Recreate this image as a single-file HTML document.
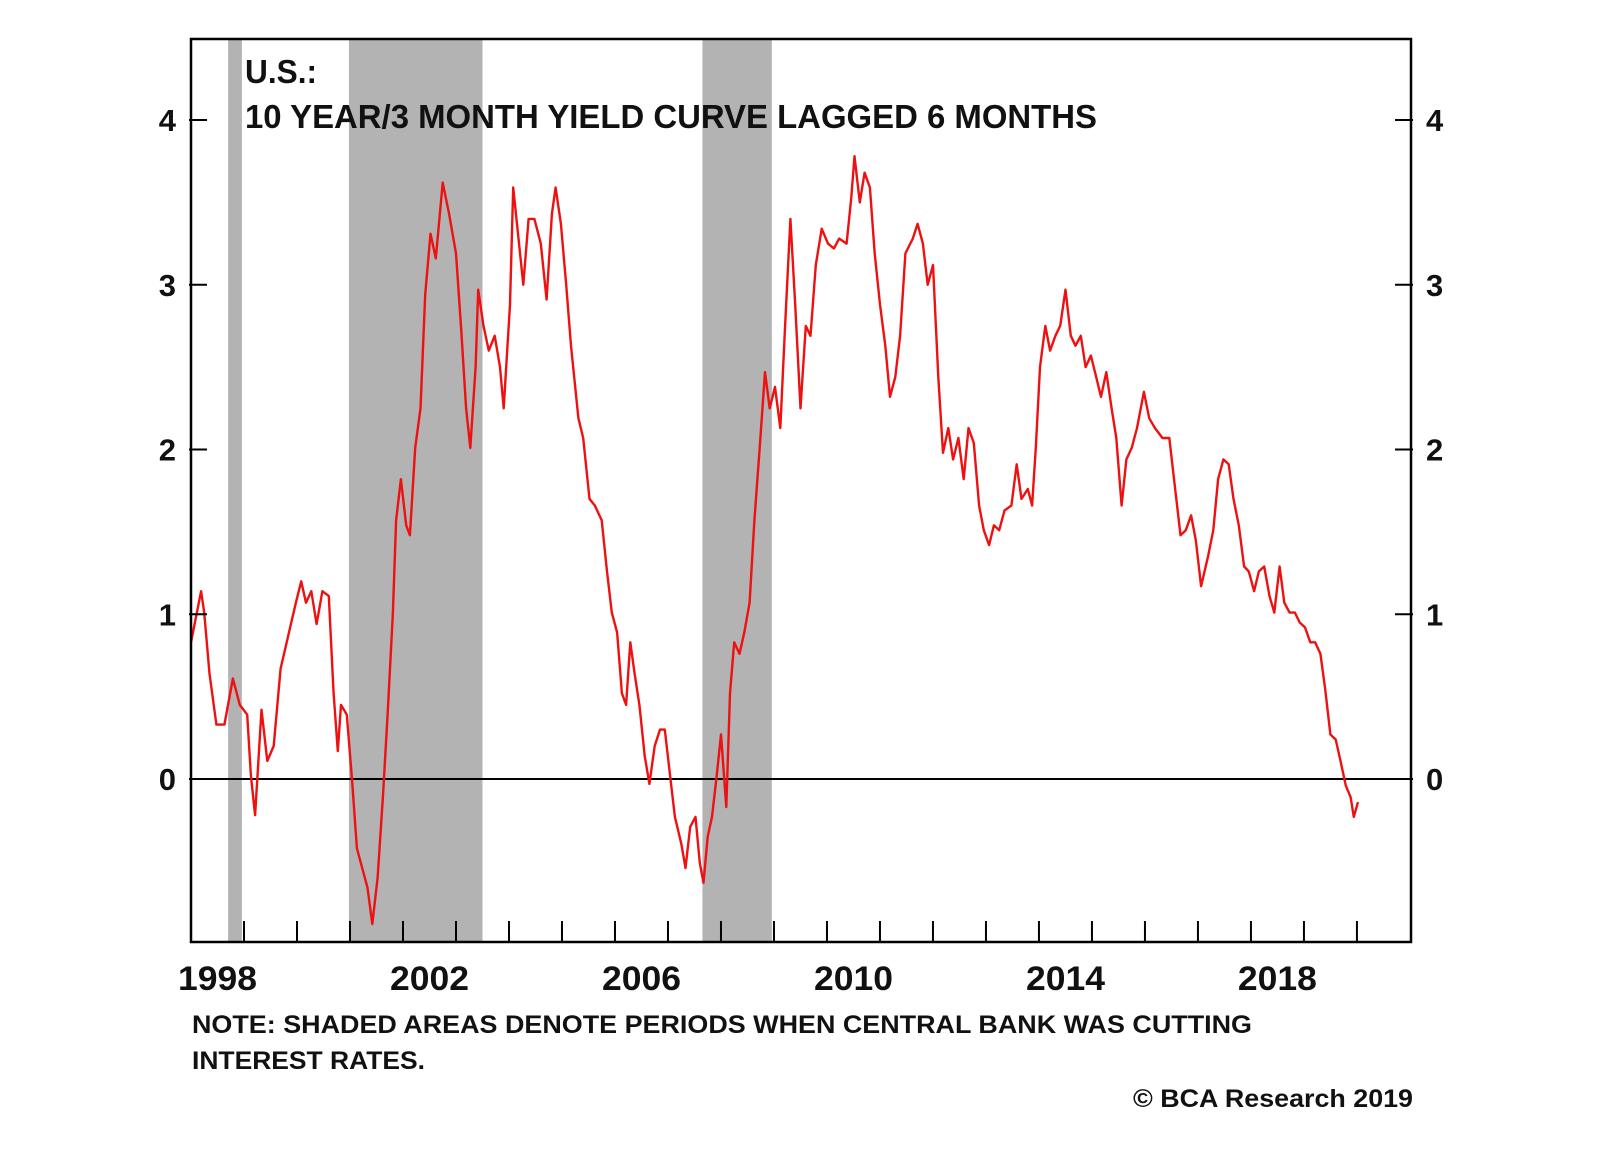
<!DOCTYPE html>
<html>
<head>
<meta charset="utf-8">
<style>
  html, body { margin: 0; padding: 0; background: #fff; }
  svg { display: block; }
  text { font-family: "Liberation Sans", Arial, sans-serif; font-weight: bold; fill: #111; }
</style>
</head>
<body>
<svg id="chart" width="1600" height="1152" viewBox="0 0 1600 1152">
  <g id="shading"></g>
  <line x1="191" y1="779" x2="1411" y2="779" stroke="#000" stroke-width="2"/>
  <g id="series"></g>
  <rect x="191" y="39" width="1220" height="903" fill="none" stroke="#000" stroke-width="2.5"/>
  <g id="axes"></g>
  <text x="245" y="83" font-size="33" textLength="72" lengthAdjust="spacingAndGlyphs">U.S.:</text>
  <text x="245" y="128" font-size="33" textLength="852" lengthAdjust="spacingAndGlyphs">10 YEAR/3 MONTH YIELD CURVE LAGGED 6 MONTHS</text>
  <text x="192" y="1033" font-size="25" textLength="1060" lengthAdjust="spacingAndGlyphs">NOTE: SHADED AREAS DENOTE PERIODS WHEN CENTRAL BANK WAS CUTTING</text>
  <text x="192" y="1069" font-size="25" textLength="233" lengthAdjust="spacingAndGlyphs">INTEREST RATES.</text>
  <text x="1133" y="1107" font-size="25" textLength="280" lengthAdjust="spacingAndGlyphs">© BCA Research 2019</text>
</svg>
<script>
const years = [1998.00,1998.19,1998.25,1998.35,1998.48,1998.63,1998.79,1998.92,1999.06,1999.13,1999.21,1999.33,1999.44,1999.56,1999.69,1999.85,1999.98,2000.08,2000.17,2000.27,2000.37,2000.48,2000.60,2000.69,2000.77,2000.83,2000.94,2001.04,2001.13,2001.23,2001.33,2001.42,2001.52,2001.62,2001.71,2001.81,2001.87,2001.96,2002.06,2002.13,2002.23,2002.33,2002.42,2002.52,2002.62,2002.75,2002.87,2003.00,2003.10,2003.19,2003.27,2003.37,2003.42,2003.52,2003.62,2003.73,2003.83,2003.90,2004.02,2004.08,2004.17,2004.27,2004.37,2004.48,2004.60,2004.71,2004.81,2004.88,2004.98,2005.08,2005.17,2005.31,2005.40,2005.52,2005.62,2005.75,2005.85,2005.94,2006.04,2006.13,2006.21,2006.29,2006.37,2006.46,2006.56,2006.65,2006.75,2006.85,2006.94,2007.04,2007.13,2007.25,2007.33,2007.42,2007.52,2007.60,2007.67,2007.75,2007.83,2007.92,2008.00,2008.10,2008.17,2008.25,2008.35,2008.44,2008.54,2008.63,2008.73,2008.83,2008.92,2009.02,2009.12,2009.21,2009.31,2009.40,2009.50,2009.60,2009.69,2009.79,2009.90,2010.02,2010.13,2010.23,2010.37,2010.46,2010.52,2010.62,2010.71,2010.81,2010.90,2011.00,2011.10,2011.19,2011.29,2011.38,2011.48,2011.62,2011.71,2011.81,2011.90,2012.00,2012.10,2012.19,2012.29,2012.38,2012.48,2012.58,2012.67,2012.77,2012.87,2012.96,2013.06,2013.15,2013.25,2013.35,2013.48,2013.58,2013.67,2013.79,2013.87,2013.94,2014.02,2014.12,2014.21,2014.31,2014.40,2014.50,2014.60,2014.69,2014.79,2014.88,2014.98,2015.08,2015.17,2015.27,2015.37,2015.46,2015.56,2015.65,2015.75,2015.85,2015.98,2016.08,2016.19,2016.33,2016.46,2016.56,2016.67,2016.77,2016.87,2016.96,2017.06,2017.19,2017.29,2017.38,2017.48,2017.58,2017.67,2017.77,2017.87,2017.96,2018.06,2018.15,2018.25,2018.35,2018.44,2018.54,2018.63,2018.73,2018.83,2018.92,2019.02,2019.12,2019.21,2019.31,2019.40,2019.50,2019.60,2019.69,2019.79,2019.88,2019.94,2020.02];
const spread = [0.83,1.14,1.01,0.64,0.33,0.33,0.61,0.45,0.39,0.02,-0.22,0.42,0.11,0.20,0.67,0.89,1.07,1.20,1.07,1.14,0.94,1.14,1.11,0.52,0.17,0.45,0.39,-0.01,-0.42,-0.54,-0.66,-0.88,-0.60,-0.11,0.39,1.01,1.57,1.82,1.54,1.48,2.01,2.25,2.94,3.31,3.16,3.62,3.43,3.19,2.72,2.25,2.01,2.50,2.97,2.75,2.60,2.69,2.50,2.25,2.88,3.59,3.31,3.00,3.40,3.40,3.25,2.91,3.43,3.59,3.37,3.00,2.63,2.19,2.07,1.70,1.66,1.57,1.26,1.01,0.89,0.52,0.45,0.83,0.64,0.45,0.14,-0.03,0.20,0.30,0.30,0.02,-0.23,-0.39,-0.54,-0.29,-0.23,-0.51,-0.63,-0.35,-0.23,0.02,0.27,-0.17,0.52,0.83,0.76,0.89,1.07,1.57,2.01,2.47,2.25,2.38,2.13,2.75,3.40,2.88,2.25,2.75,2.69,3.12,3.34,3.25,3.22,3.28,3.25,3.53,3.78,3.50,3.68,3.59,3.19,2.88,2.63,2.32,2.44,2.69,3.19,3.28,3.37,3.25,3.00,3.12,2.44,1.98,2.13,1.94,2.07,1.82,2.13,2.04,1.66,1.51,1.42,1.54,1.51,1.63,1.66,1.91,1.70,1.76,1.66,2.01,2.50,2.75,2.60,2.69,2.75,2.97,2.69,2.63,2.69,2.50,2.57,2.44,2.32,2.47,2.25,2.07,1.66,1.94,2.01,2.13,2.35,2.19,2.13,2.07,2.07,1.79,1.48,1.51,1.60,1.45,1.17,1.35,1.51,1.82,1.94,1.91,1.70,1.54,1.29,1.26,1.14,1.26,1.29,1.11,1.01,1.29,1.07,1.01,1.01,0.95,0.92,0.83,0.83,0.76,0.55,0.27,0.24,0.11,-0.04,-0.11,-0.23,-0.14];
const shadeStarts = [1998.70, 2000.98, 2007.65];
const shadeEnds = [1998.96, 2003.50, 2008.96];
const yTicks = [0, 1, 2, 3, 4];
const xLabels = [1998, 2002, 2006, 2010, 2014, 2018];

const X0 = 191, X1 = 1411, Y0 = 39, Y1 = 942;
const xMin = 1998, xMax = 2021.02;
const xs = t => X0 + (t - xMin) / (xMax - xMin) * (X1 - X0);
const ys = v => 779 - v * 164.75;
const NS = 'http://www.w3.org/2000/svg';
function mk(tag, attrs, parent) {
  const e = document.createElementNS(NS, tag);
  for (const k in attrs) e.setAttribute(k, attrs[k]);
  parent.appendChild(e);
  return e;
}
const shading = document.getElementById('shading');
shadeStarts.forEach((s, i) => {
  const r = mk('rect', {x: xs(s), y: Y0, width: xs(shadeEnds[i]) - xs(s), height: Y1 - Y0, fill: '#b3b3b3'}, shading);
  
  
});
const series = document.getElementById('series');
const pts = years.map((t, i) => xs(t).toFixed(1) + ',' + ys(spread[i]).toFixed(1)).join(' ');
const line = mk('polyline', {points: pts, fill: 'none', stroke: '#ee1111', 'stroke-width': 2.4, 'stroke-linejoin': 'round'}, series);



const axes = document.getElementById('axes');
yTicks.forEach(v => {
  const y = ys(v);
  const tl = mk('line', {x1: X0 - 2, x2: X0 + 16, y1: y, y2: y, stroke: '#000', 'stroke-width': 2}, axes);
  
  
  const tr = mk('line', {x1: X1 - 16, x2: X1 + 2, y1: y, y2: y, stroke: '#000', 'stroke-width': 2}, axes);
  
  
  const l = mk('text', {x: 176, y: y + 11, 'font-size': 31, 'text-anchor': 'end'}, axes);
  l.textContent = v;
  
  
  const r = mk('text', {x: 1426, y: y + 11, 'font-size': 31}, axes);
  r.textContent = v;
  
  
});
for (let yr = xMin + 1; yr < xMax - 0.5; yr++) {
  const x = xs(yr);
  const t = mk('line', {x1: x, x2: x, y1: Y1 - 21, y2: Y1, stroke: '#000', 'stroke-width': 2}, axes);
  
  
}
xLabels.forEach(yr => {
  const l = mk('text', {x: xs(yr + 0.5), y: 990, 'font-size': 34, 'text-anchor': 'middle', textLength: 79, lengthAdjust: 'spacingAndGlyphs'}, axes);
  l.textContent = yr;
  
  
});
</script>
</body>
</html>
